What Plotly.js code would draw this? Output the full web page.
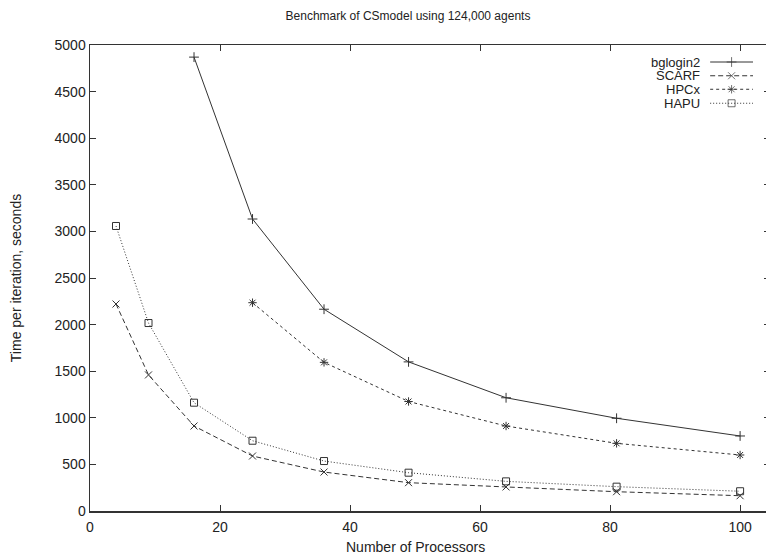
<!DOCTYPE html>
<html>
<head>
<meta charset="utf-8">
<script src="https://cdn.plot.ly/plotly-3.0.1.min.js"></script>
<style>
html,body{margin:0;padding:0;background:#fff;overflow:hidden;width:766px;height:555px;}
#chart{width:770px;height:555px;}
</style>
</head>
<body>
<div id="chart"></div>
<script>
// ---- data ----
const seriesNames = ["bglogin2", "SCARF", "HPCx", "HAPU"];

const bgloginX = [16, 25, 36, 49, 64, 81, 100];
const bgloginY = [4870, 3133, 2165, 1600, 1215, 995, 805];

const scarfX = [4, 9, 16, 25, 36, 49, 64, 81, 100];
const scarfY = [2221, 1460, 912, 590, 418, 304, 258, 207, 164];

const hpcxX = [25, 36, 49, 64, 81, 100];
const hpcxY = [2235, 1595, 1175, 912, 726, 601];

const hapuX = [4, 9, 16, 25, 36, 49, 64, 81, 100];
const hapuY = [3058, 2017, 1162, 754, 536, 411, 318, 261, 212];

const xTicks = [0, 20, 40, 60, 80, 100];
const yTicks = [0, 500, 1000, 1500, 2000, 2500, 3000, 3500, 4000, 4500, 5000];

// ---- styles ----
const ink = "#333333";
const txt = "#222222";
const FONT = "'Liberation Sans', Arial, sans-serif";
const styles = [
  {dash: "solid",     symbol: "cross-thin-open",    size: 7},
  {dash: "5px,3px",   symbol: "x-thin-open",        size: 7},
  {dash: "3px,3px",   symbol: "asterisk-open",      size: 7},
  {dash: "1px,2px",   symbol: "square-open",        size: 7}
];
const xs = [bgloginX, scarfX, hpcxX, hapuX];
const ys = [bgloginY, scarfY, hpcxY, hapuY];

const traces = [];
for (let i = 0; i < seriesNames.length; i++) {
  traces.push({
    type: "scatter", mode: "lines+markers", name: seriesNames[i],
    x: xs[i], y: ys[i], showlegend: false,
    line: {color: ink, width: 1, dash: styles[i].dash},
    marker: {symbol: styles[i].symbol, size: styles[i].size, color: ink,
             line: {color: ink, width: 1}}
  });
}

// custom gnuplot-style key (text left, sample right), on a hidden overlay axis
const keyRowY = [0.9635, 0.934, 0.905, 0.875];
const annotations = [];
for (let i = 0; i < seriesNames.length; i++) {
  traces.push({
    type: "scatter", mode: "lines+markers", xaxis: "x2", yaxis: "y2",
    x: [0.912, 0.9435, 0.975], y: [keyRowY[i], keyRowY[i], keyRowY[i]],
    showlegend: false, hoverinfo: "skip",
    line: {color: ink, width: 1, dash: styles[i].dash},
    marker: {symbol: styles[i].symbol, size: [0, styles[i].size, 0], color: ink,
             line: {color: ink, width: 1}}
  });
  annotations.push({
    xref: "x2", yref: "y2", x: 0.899, y: keyRowY[i], xanchor: "right", yanchor: "middle",
    text: seriesNames[i], showarrow: false, borderpad: 0,
    font: {family: FONT, size: 13, color: txt}
  });
}
annotations.push({
  xref: "paper", yref: "paper", x: (415 - 90) / 680, y: -(547 - 511) / 466,
  xanchor: "center", yanchor: "middle", borderpad: 0,
  text: "Number of Processors", showarrow: false,
  font: {family: FONT, size: 14, color: txt}
});

const layout = {
  width: 770, height: 555,
  margin: {l: 90, r: 0, t: 45, b: 44},
  paper_bgcolor: "#fff", plot_bgcolor: "#fff",
  font: {family: FONT, size: 14, color: txt},
  title: {text: "Benchmark of CSmodel using 124,000 agents", x: (408 - 90) / 680, xref: "paper",
          xanchor: "center", y: 1 - 16 / 555, yanchor: "middle",
          font: {family: FONT, size: 12, color: txt}},
  showlegend: false,
  xaxis: {
    range: [0, 104.6], tickvals: xTicks, ticktext: xTicks.map(String),
    ticks: "inside", ticklen: 6, tickwidth: 1, tickcolor: ink,
    showline: true, linecolor: ink, linewidth: 1.5, mirror: "ticks",
    showgrid: false, zeroline: false, ticklabelstandoff: 3,
    tickfont: {family: FONT, size: 14, color: txt}
  },
  yaxis: {
    range: [0, 5000], tickvals: yTicks, ticktext: yTicks.map(String),
    ticks: "inside", ticklen: 6, tickwidth: 1, tickcolor: ink,
    showline: true, linecolor: ink, linewidth: 1.5, mirror: "ticks",
    showgrid: false, zeroline: false,
    tickfont: {family: FONT, size: 14, color: txt},
    title: {text: "Time per iteration, seconds", standoff: 29,
            font: {family: FONT, size: 14, color: txt}}
  },
  xaxis2: {overlaying: "x", range: [0, 1], visible: false, fixedrange: true},
  yaxis2: {overlaying: "y", range: [0, 1], visible: false, fixedrange: true},
  annotations: annotations
};

Plotly.newPlot("chart", traces, layout, {displayModeBar: false, staticPlot: true});
</script>
</body>
</html>
